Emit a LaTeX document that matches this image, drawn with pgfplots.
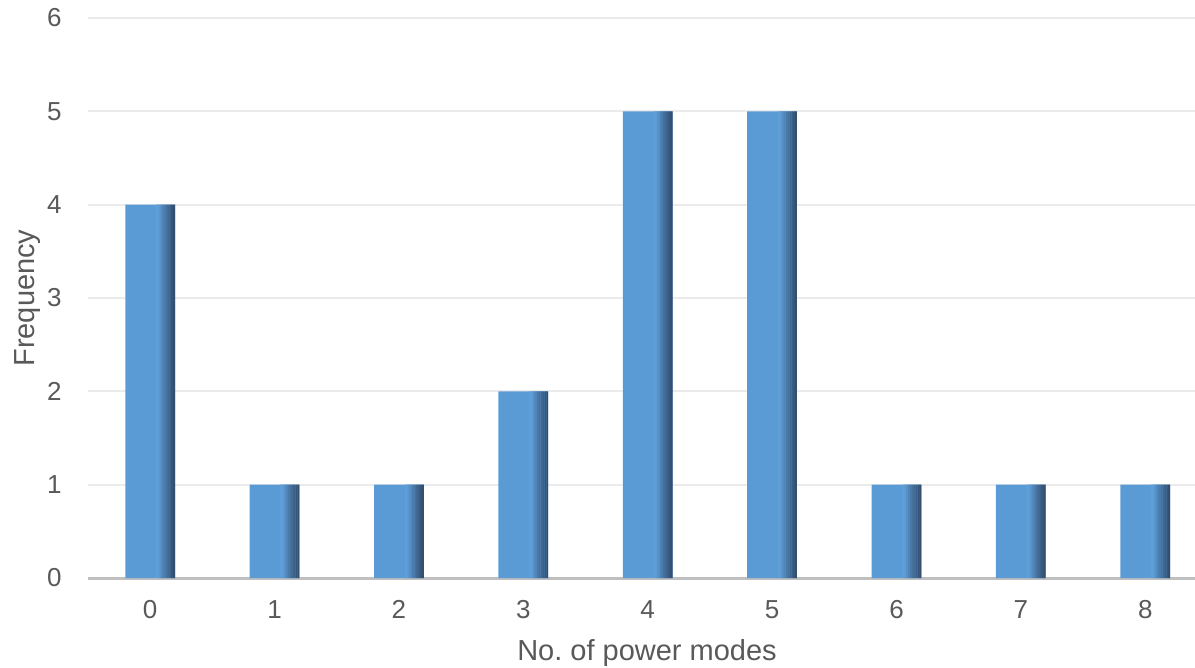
\documentclass[border=0pt]{standalone}
\usepackage{pgfplots}
\usepackage{pgfplotstable}
\pgfplotsset{compat=1.18}
\usepackage{fontspec}
\setmainfont{Liberation Sans}
\definecolor{bblue}{HTML}{5B9BD5}
\definecolor{s0}{HTML}{5FA0D9}
\definecolor{s1}{HTML}{5C9BD3}
\definecolor{s2}{HTML}{5690C6}
\definecolor{s3}{HTML}{5085B8}
\definecolor{s4}{HTML}{4A7BAA}
\definecolor{s5}{HTML}{45719D}
\definecolor{s6}{HTML}{406891}
\definecolor{s7}{HTML}{3B5F86}
\definecolor{s8}{HTML}{36577B}
\definecolor{s9}{HTML}{314F70}
\definecolor{txt}{HTML}{595959}
\definecolor{gridc}{HTML}{EBEBEB}
\definecolor{axc}{HTML}{BFBFBF}
\pgfplotstableread{
x y
0 4
1 1
2 1
3 2
4 5
5 5
6 1
7 1
8 1
}\data
\begin{document}
\begin{tikzpicture}
\begin{axis}[
  scale only axis,
  width=553.5bp, height=280bp,
  xmin=-0.5, xmax=8.4,
  ymin=0, ymax=6,
  axis x line=bottom,
  axis y line=left,
  x axis line style={draw=axc, line width=1.5bp, -},
  y axis line style={draw=none},
  ymajorgrids,
  grid style={draw=gridc, line width=1bp},
  major tick length=0pt,
  xtick={0,1,2,3,4,5,6,7,8},
  xticklabels={0,1,2,3,4,5,6,7,8},
  ytick={0,1,2,3,4,5,6},
  /pgf/number format/assume math mode=true,
  ticklabel style={font=\fontsize{13bp}{15bp}\selectfont, text=txt},
  xticklabel style={anchor=north, inner sep=0pt, yshift=-11bp},
  yticklabel style={anchor=east, inner sep=0pt, xshift=-13bp},
  xlabel={\frenchspacing No. of power modes},
  ylabel={Frequency},
  label style={font=\fontsize{14.5bp}{17bp}\selectfont, text=txt},
  xlabel style={at={(axis description cs:0.505,0)}, anchor=base, inner sep=0pt, yshift=-41bp},
  ylabel style={at={(axis description cs:0,0.5)}, anchor=base, inner sep=0pt, yshift=27bp},
  clip=false,
]
\addplot[ybar, bar width=0.4, bar shift=0, draw=none, fill=bblue] table[x=x,y=y] {\data};
\addplot[ybar, bar width=0.016, bar shift=0.0556, draw=none, fill=s0] table[x=x,y=y] {\data};
\addplot[ybar, bar width=0.016, bar shift=0.0708, draw=none, fill=s1] table[x=x,y=y] {\data};
\addplot[ybar, bar width=0.016, bar shift=0.0860, draw=none, fill=s2] table[x=x,y=y] {\data};
\addplot[ybar, bar width=0.016, bar shift=0.1012, draw=none, fill=s3] table[x=x,y=y] {\data};
\addplot[ybar, bar width=0.016, bar shift=0.1164, draw=none, fill=s4] table[x=x,y=y] {\data};
\addplot[ybar, bar width=0.016, bar shift=0.1316, draw=none, fill=s5] table[x=x,y=y] {\data};
\addplot[ybar, bar width=0.016, bar shift=0.1468, draw=none, fill=s6] table[x=x,y=y] {\data};
\addplot[ybar, bar width=0.016, bar shift=0.1620, draw=none, fill=s7] table[x=x,y=y] {\data};
\addplot[ybar, bar width=0.016, bar shift=0.1772, draw=none, fill=s8] table[x=x,y=y] {\data};
\addplot[ybar, bar width=0.0152, bar shift=0.1924, draw=none, fill=s9] table[x=x,y=y] {\data};
\end{axis}
\pgfresetboundingbox
\path (current axis.south west) ++(-44bp,-45bp) coordinate (bbA);
\path (current axis.north east) ++(0bp,9bp) coordinate (bbB);
\path[use as bounding box] (bbA) rectangle (bbB);
\end{tikzpicture}
\end{document}
